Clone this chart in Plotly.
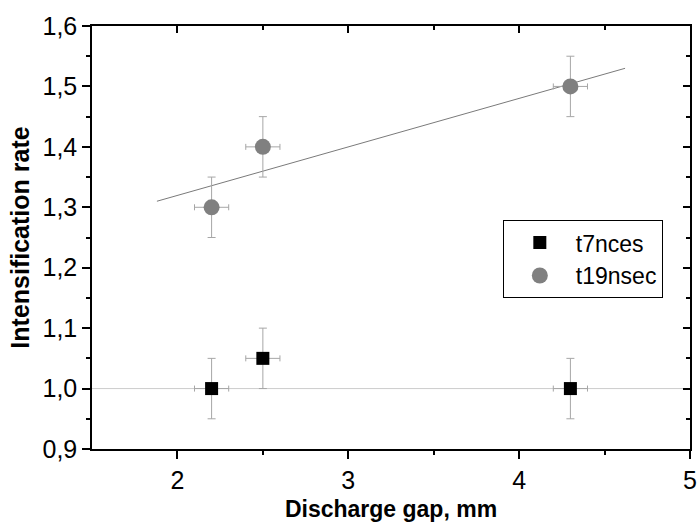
import plotly.graph_objects as go

# Measured points: discharge gap (mm) vs intensification rate
gap = [2.2, 2.5, 4.3]
rate_t7 = [1.00, 1.05, 1.00]
rate_t19 = [1.30, 1.40, 1.50]
err_gap = [0.1, 0.1, 0.1]
err_rate = [0.05, 0.05, 0.05]

# Linear fit through the t19nsec points (end points)
fit_x = [1.88, 4.62]
fit_y = [1.31, 1.53]

# Reference level
ref_x = [1.5, 5.0]
ref_y = [1.0, 1.0]

FONT = "Liberation Sans, Arial, sans-serif"
ERR = "#a6a6a6"

fig = go.Figure()

fig.add_trace(go.Scatter(x=ref_x, y=ref_y, mode="lines",
                         line=dict(color="#cccccc", width=1),
                         showlegend=False, hoverinfo="skip"))
fig.add_trace(go.Scatter(x=fit_x, y=fit_y, mode="lines",
                         line=dict(color="#7a7a7a", width=1),
                         showlegend=False, hoverinfo="skip"))

fig.add_trace(go.Scatter(
    x=gap, y=rate_t7, mode="markers", name="t7nces",
    marker=dict(symbol="square", size=13, color="black"),
    error_x=dict(type="data", array=err_gap, color=ERR, thickness=1, width=3),
    error_y=dict(type="data", array=err_rate, color=ERR, thickness=1, width=4),
))
fig.add_trace(go.Scatter(
    x=gap, y=rate_t19, mode="markers", name="t19nsec",
    marker=dict(symbol="circle", size=16, color="#808080"),
    error_x=dict(type="data", array=err_gap, color=ERR, thickness=1, width=3),
    error_y=dict(type="data", array=err_rate, color=ERR, thickness=1, width=4),
))

axis_common = dict(showgrid=False, zeroline=False, showline=True,
                   linecolor="black", linewidth=1.5, automargin=False)

fig.update_layout(
    width=700, height=525,
    margin=dict(l=92, r=10, t=26, b=76),
    paper_bgcolor="white", plot_bgcolor="white",
    separators=",.",
    font=dict(family=FONT, size=25, color="black"),
    xaxis=dict(range=[1.5, 5], tickvals=[2, 3, 4, 5], ticks="outside",
               ticklen=8, tickwidth=1.5, tickcolor="black",
               tickfont=dict(size=25),
               minor=dict(tickvals=[2.5, 3.5, 4.5], ticks="outside",
                          ticklen=4, tickwidth=1.5, tickcolor="black"),
               title=dict(text="<b>Discharge gap, mm</b>", standoff=8,
                          font=dict(size=23)),
               **axis_common),
    yaxis=dict(range=[0.9, 1.6], dtick=0.1, tick0=0.9, tickformat=".1f",
               ticks="outside", ticklen=8, tickwidth=1.5, tickcolor="black",
               tickfont=dict(size=25),
               minor=dict(dtick=0.05, ticks="outside", ticklen=4,
                          tickwidth=1.5, tickcolor="black"),
               title=dict(text="<b>Intensification rate</b>", standoff=6,
                          font=dict(size=25)),
               **axis_common),
    xaxis2=dict(range=[1.5, 5], overlaying="x", side="top", matches="x",
                tickvals=[2, 3, 4, 5], ticks="inside", ticklen=7,
                tickwidth=1.5, tickcolor="black", showticklabels=False,
                minor=dict(tickvals=[2.5, 3.5, 4.5], ticks="inside",
                           ticklen=4, tickwidth=1.5, tickcolor="black"),
                **axis_common),
    yaxis2=dict(range=[0.9, 1.6], overlaying="y", side="right",
                dtick=0.1, tick0=0.9, ticks="inside", ticklen=7,
                tickwidth=1.5, tickcolor="black", showticklabels=False,
                minor=dict(dtick=0.05, ticks="inside", ticklen=4,
                           tickwidth=1.5, tickcolor="black"),
                **axis_common),
    legend=dict(x=0.687, y=0.541, xanchor="left", yanchor="top",
                bordercolor="black", borderwidth=1, bgcolor="white",
                font=dict(size=23), itemwidth=62, tracegroupgap=0),
)

# invisible trace to activate the mirrored axes
fig.add_trace(go.Scatter(x=[None], y=[None], xaxis="x2", yaxis="y2",
                         showlegend=False, hoverinfo="skip"))

fig.write_html("out.html")
